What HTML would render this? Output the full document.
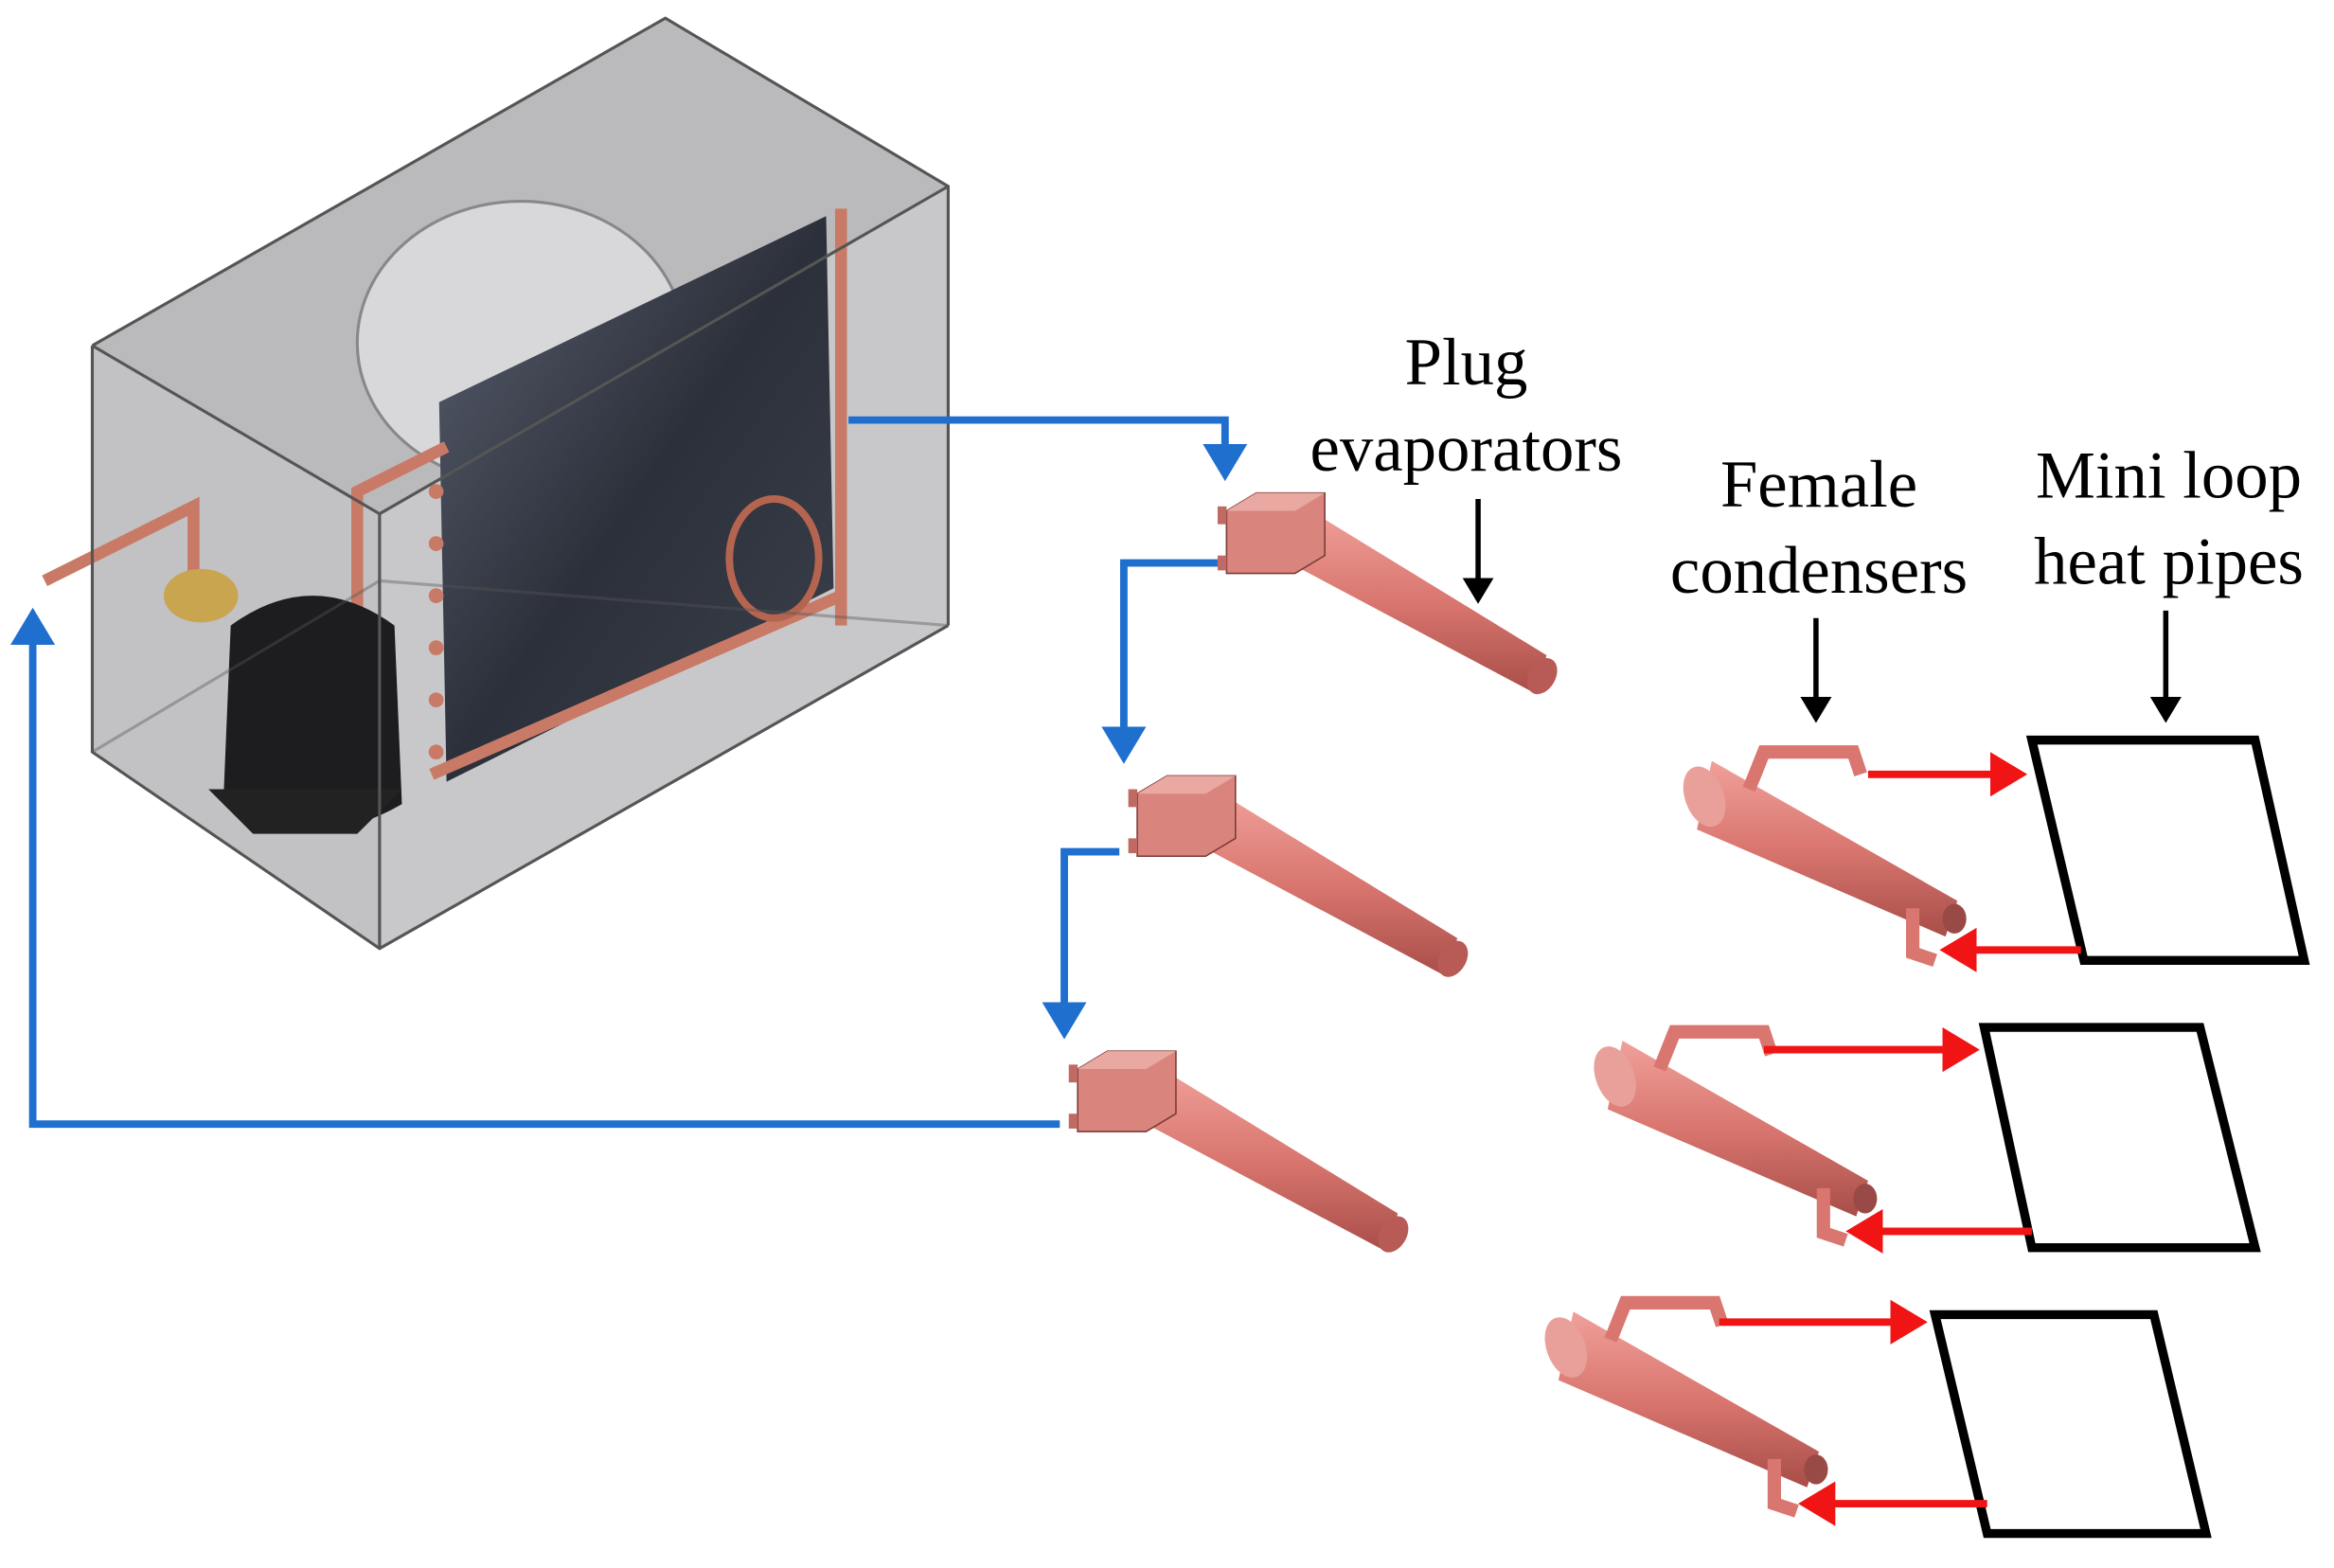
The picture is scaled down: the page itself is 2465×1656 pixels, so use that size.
<!DOCTYPE html>
<html><head><meta charset="utf-8"><style>
html,body{margin:0;padding:0;background:#fff;width:2465px;height:1656px;overflow:hidden}
svg{display:block}
text{font-family:"Liberation Serif",serif;font-size:45px;fill:#000;text-anchor:middle}
</style></head><body>
<svg width="2465" height="1656" viewBox="0 0 1568 1053" xmlns="http://www.w3.org/2000/svg">
<defs>
<linearGradient id="cone" x1="0" y1="0" x2="0" y2="1"><stop offset="0" stop-color="#f0a09a"/><stop offset="0.5" stop-color="#d9766f"/><stop offset="1" stop-color="#a84d48"/></linearGradient>
<linearGradient id="coil" x1="0" y1="0" x2="1" y2="1"><stop offset="0" stop-color="#5a6070"/><stop offset="0.5" stop-color="#2c303a"/><stop offset="1" stop-color="#3c414c"/></linearGradient>
<marker id="bl" markerWidth="6" markerHeight="6" refX="4" refY="3" orient="auto" markerUnits="strokeWidth"><path d="M0,0 L5,3 L0,6z" fill="#1f6fcf"/></marker>
<marker id="rd" markerWidth="6" markerHeight="6" refX="4" refY="3" orient="auto" markerUnits="strokeWidth"><path d="M0,0 L5,3 L0,6z" fill="#f01414"/></marker>
<marker id="bk" markerWidth="6" markerHeight="6" refX="4" refY="3" orient="auto" markerUnits="strokeWidth"><path d="M0,0 L5,3 L0,6z" fill="#000"/></marker>
<g id="evap">
<path d="M55,14 L215,112 L208,138 L50,54z" fill="url(#cone)"/>
<ellipse cx="212" cy="126" rx="9" ry="13" fill="#b85a55" transform="rotate(30 212 126)"/>
<path d="M0,15 L20,3 L66,3 L66,45 L46,57 L0,57z" fill="#d9857e" stroke="#7a3a36" stroke-width="1"/>
<path d="M0,15 L20,3 L66,3 L46,15z" fill="#e9a8a2"/>
<rect x="-6" y="12" width="6" height="12" fill="#c06a64"/>
<rect x="-6" y="45" width="6" height="10" fill="#c06a64"/>
</g>
<g id="cond">
<path d="M15,-4 L180,90 L172,114 L5,42z" fill="url(#cone)"/>
<ellipse cx="10" cy="20" rx="13" ry="21" fill="#e9a09a" transform="rotate(-20 10 20)"/>
<path d="M40,15 L50,-10 L110,-10 L115,5" fill="none" stroke="#d9766f" stroke-width="9"/>
<path d="M150,95 L150,125 L165,130" fill="none" stroke="#d9766f" stroke-width="9"/>
<ellipse cx="178" cy="102" rx="8" ry="10" fill="#9a4a46"/>
</g>
</defs>
<polygon points="62,232 447,12 637,125 637,420 255,637 62,505" fill="#c2c2c4"/>
<polygon points="62,232 447,12 637,125 255,345" fill="#b4b4b7" opacity="0.6"/>
<polygon points="255,345 637,125 637,420 255,637" fill="#c8c8ca"/>
<ellipse cx="350" cy="230" rx="110" ry="95" fill="#d8d8da" stroke="#888" stroke-width="2"/>
<polygon points="295,270 555,145 560,395 300,525" fill="url(#coil)"/>
<g stroke="#c97a66" stroke-width="8" fill="none">
<path d="M565,140 L565,420"/><path d="M290,520 L565,400"/>
<path d="M240,440 L240,330 L300,300"/><path d="M30,390 L130,340 L130,390"/>
</g>
<g fill="#c97a66"><circle cx="293" cy="330" r="5"/><circle cx="293" cy="365" r="5"/><circle cx="293" cy="400" r="5"/><circle cx="293" cy="435" r="5"/><circle cx="293" cy="470" r="5"/><circle cx="293" cy="505" r="5"/></g>
<ellipse cx="520" cy="375" rx="30" ry="40" fill="none" stroke="#b5654f" stroke-width="5"/>
<ellipse cx="135" cy="400" rx="25" ry="18" fill="#c9a550"/>
<path d="M155,420 Q210,380 265,420 L270,540 Q210,575 150,540z" fill="#1d1d1f"/>
<path d="M140,530 L270,530 L240,560 L170,560z" fill="#222"/>
<g fill="none" stroke="#555" stroke-width="2"><polyline points="62,232 62,505 255,637 637,420"/><polyline points="62,505 255,390 637,420" opacity="0.4"/><line x1="255" y1="345" x2="255" y2="637"/><polyline points="62,232 255,345 637,125"/><polyline points="62,232 447,12 637,125 637,420"/></g>
<g fill="none" stroke="#1f6fcf" stroke-width="5">
<polyline points="570,282 823,282 823,318" marker-end="url(#bl)"/>
<polyline points="818,378 755,378 755,508" marker-end="url(#bl)"/>
<polyline points="752,572 715,572 715,693" marker-end="url(#bl)"/>
<polyline points="712,755 22,755 22,413" marker-end="url(#bl)"/>
</g>
<use href="#evap" x="824" y="328"/>
<use href="#evap" x="764" y="518"/>
<use href="#evap" x="724" y="703"/>
<text x="985" y="258">Plug</text><text x="985" y="316">evaporators</text>
<text x="1222" y="340">Female</text><text x="1222" y="398">condensers</text>
<text x="1457" y="334">Mini loop</text><text x="1457" y="392">heat pipes</text>
<g stroke="#000" stroke-width="3.5" fill="none">
<line x1="993" y1="335" x2="993" y2="402" marker-end="url(#bk)"/>
<line x1="1220" y1="415" x2="1220" y2="482" marker-end="url(#bk)"/>
<line x1="1455" y1="410" x2="1455" y2="482" marker-end="url(#bk)"/>
</g>
<g fill="none" stroke="#000" stroke-width="6">
<polygon points="1365,497 1515,497 1548,645 1400,645"/>
<polygon points="1333,690 1478,690 1515,838 1365,838"/>
<polygon points="1300,883 1447,883 1482,1030 1335,1030"/>
</g>
<use href="#cond" x="1135" y="515"/>
<use href="#cond" x="1075" y="703"/>
<use href="#cond" x="1042" y="885"/>
<g stroke="#f01414" stroke-width="5" fill="none">
<line x1="1255" y1="520" x2="1357" y2="520" marker-end="url(#rd)"/>
<line x1="1398" y1="638" x2="1308" y2="638" marker-end="url(#rd)"/>
<line x1="1185" y1="705" x2="1325" y2="705" marker-end="url(#rd)"/>
<line x1="1365" y1="827" x2="1245" y2="827" marker-end="url(#rd)"/>
<line x1="1155" y1="888" x2="1290" y2="888" marker-end="url(#rd)"/>
<line x1="1335" y1="1010" x2="1213" y2="1010" marker-end="url(#rd)"/>
</g>
</svg>
</body></html>
